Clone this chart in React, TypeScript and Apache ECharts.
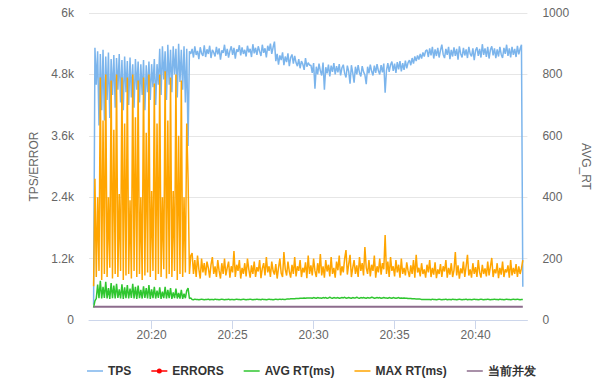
import React, { useEffect, useRef } from "react";
import * as echarts from "echarts";

// ---- time base (one sample every 5 s) ----
const START = new Date(2020, 0, 1, 20, 16, 25).getTime();
const STEP_MS = 5000;
const AXIS_MIN = new Date(2020, 0, 1, 20, 16, 8).getTime();
const AXIS_MAX = new Date(2020, 0, 1, 20, 43, 12).getTime();
const TICK_LABELS = ["20:20", "20:25", "20:30", "20:35", "20:40"];

const LEGEND_NAMES = ["TPS", "ERRORS", "AVG RT(ms)", "MAX RT(ms)", "当前并发"];

// ---- TPS (left axis) ----
const TPS = [
  300,
  5320, 4600, 5250, 3800, 5200, 4100, 5280, 3900, 5150, 4300,
  5230, 3950, 5100, 4400, 5180, 4150, 5120, 4500, 5200, 4250,
  5080, 4100, 5150, 4450, 5060, 4200, 5130, 4350, 5000, 4150,
  5100, 4500, 5050, 4250, 5000, 4400, 5080, 4100, 4980, 4450,
  5050, 4300, 5000, 4550, 5100, 4200, 5000, 4600, 5300, 4400,
  5350, 4700, 5250, 4300, 5380, 4600, 5280, 4450, 5350, 4800,
  5300, 4350, 5400, 4650, 5280, 4500, 5350, 4250, 5300, 3400,
  5250, 5200,
  5300, 5130, 5350, 5180, 5260, 5100, 5330, 5210, 5160, 5370,
  5140, 5290, 5200, 5360, 5120, 5280, 5230, 5150, 5340, 5190,
  5310, 5090, 5270, 5220, 5380, 5160, 5300, 5130, 5260, 5350,
  5180, 5320, 5110, 5290, 5240, 5370, 5170, 5330, 5200, 5280,
  5150, 5360, 5230, 5300, 5140, 5390, 5210, 5320, 5180, 5350,
  5250, 5160, 5380, 5220, 5310, 5130, 5360, 5260, 5400, 5200,
  5330,
  5440, 5060, 5200, 4990, 5170, 5080, 5230, 4980, 5150, 5040, 5210, 4960, 5130, 5190, 5010, 5160, 5030,
  4960, 5100, 4920, 5060, 5000, 4890, 5120, 4950, 5030, 4980,
  4980, 4830, 5020, 4520, 4950, 4800, 5010, 4870, 4780, 5030,
  4500, 4940, 4820, 4990, 4760, 4970, 4850, 5020, 4800, 4960,
  4840, 5000, 4780, 4930, 4990, 4820, 4740, 4970, 4860, 4620,
  4980, 4830,
  4640, 4950, 4800, 4980, 4830, 4760, 4960, 4850, 4790, 4610,
  4950, 4820, 4990, 4860, 4780, 4970, 4830, 5000, 4870, 4800,
  4980, 4840, 5010,
  4440,
  4880, 5020, 4850, 4990, 5050, 4870, 5010, 4830, 5040, 4900, 5060, 4860, 5020, 4890, 5070, 4920, 5030,
  5080, 4980, 5120, 5010, 5150, 5060, 5170, 5090, 5200, 5110, 5230, 5150, 5260,
  5280, 5140, 5310, 5170, 5340, 5110, 5290, 5160, 5320, 5130,
  5270, 5380, 5190, 5120, 5300, 5180, 5340, 5100, 5280, 5150,
  5330, 5160, 5300, 5090, 5350, 5200, 5130, 5320, 5170, 5290,
  5120, 5340, 5200, 5150, 5310, 5080, 5270, 5330, 5160, 5300,
  5130, 5390, 5180, 5310, 5140, 5340, 5110, 5280, 5350, 5170,
  5310, 5120, 5290, 5150, 5340, 5190, 5120, 5320, 5200, 5380,
  5160, 5310, 5130, 5340, 5180, 5300, 5140, 5360, 5190, 5300,
  5380,
  650,
];

// ---- ERRORS (no errors recorded) ----
const ERRORS: number[] = [];

// ---- AVG RT (ms, right axis) ----
const AVG_RT = [
  40, 62, 70,
  115, 71, 128, 70, 108, 72, 124, 70, 104, 69,
  120, 71, 112, 70, 118, 72, 100, 70, 116, 69,
  106, 71, 114, 70, 102, 72, 118, 70, 108, 69,
  112, 71, 98, 70, 110, 72, 104, 70, 114, 69,
  100, 71, 108, 70, 96, 72, 106, 69, 92, 71,
  108, 70, 98, 71, 104, 69, 90, 71, 102, 70,
  88, 70, 98, 69, 86, 71, 96, 104, 70, 72,
  67, 66, 68, 67, 67, 66, 67, 68, 67, 66,
  67, 67, 68, 66, 67, 67, 66, 68, 67, 67,
  66, 67, 68, 67, 66, 67, 67, 68, 66, 67,
  67, 66, 67, 68, 67, 67, 66, 67, 68, 67,
  66, 67, 67, 68, 67, 66, 67, 67, 68, 67,
  67, 66, 68, 67, 67, 66, 67, 68, 67, 67,
  66, 67, 68, 67, 67, 68, 67, 68, 67, 67,
  68, 68, 68, 69, 69, 69, 69, 70, 70, 70,
  71, 71, 71, 72, 71, 72, 72, 72,
  72, 71, 73, 72, 71, 73, 72, 72, 71, 73,
  72, 73, 71, 72, 74, 72, 71, 73, 72, 72,
  73, 71, 72, 73, 72, 74, 71, 72, 73, 72,
  71, 73, 72, 72, 74, 72, 71, 73, 72, 73,
  72, 71, 73, 72, 72, 74, 73, 71, 72, 73,
  72, 73, 71, 72, 73, 72, 72, 71, 73, 72,
  71, 73, 72, 71, 72, 73, 71, 72, 71, 72,
  71, 71, 70, 70, 70, 69, 69, 69, 68, 68, 68, 68, 67, 67, 67, 67, 67, 67,
  67, 66, 68, 67, 67, 66, 67, 68, 67, 66,
  67, 67, 68, 66, 67, 67, 66, 68, 67, 67,
  66, 67, 68, 67, 66, 67, 67, 68, 66, 67,
  67, 66, 67, 68, 67, 67, 66, 67, 68, 67,
  66, 67, 67, 68, 67, 66, 67, 67, 68, 67,
  67, 66, 68, 67, 67, 66, 67, 68, 67, 67,
  66, 67, 68, 67, 67, 68, 67, 66, 67, 67,
];

// ---- MAX RT (ms, right axis) ----
const MAX_RT = [
  110,
  460, 140, 400, 160, 790, 130, 650, 150, 800, 140,
  400, 170, 780, 135, 620, 150, 800, 140, 410, 160,
  790, 130, 640, 145, 790, 150, 390, 135, 800, 160,
  660, 140, 780, 150, 400, 130, 790, 145, 610, 155,
  800, 140, 420, 160, 770, 130, 640, 150, 800, 140,
  400, 165, 810, 135, 650, 150, 790, 140, 420, 160,
  800, 130, 600, 150, 780, 140, 400, 155, 640, 460,
  150, 210,
  218, 150, 195, 140, 210, 165, 135, 200, 155, 185,
  145, 190, 170, 138, 180, 205, 150, 175, 140, 195,
  160, 135, 185, 150, 200, 145, 170, 190, 138, 175,
  155, 225, 140, 180, 160, 195, 135, 170, 150, 185,
  142, 200, 165, 138, 178, 150, 190, 140, 172, 158,
  195, 136, 168, 185, 145, 205, 155, 175, 140, 190,
  160, 148, 182, 135, 170, 200, 152, 140, 221, 165,
  145, 190, 158, 138, 180, 150, 205, 142, 175, 160,
  195, 140, 170, 155, 188, 136, 210, 150, 178, 145,
  200, 160, 140, 185, 152, 215, 145, 175, 138, 195,
  158, 180, 142, 205, 150, 170, 138, 190, 162, 210,
  145, 175, 155, 200, 228, 148, 182, 212, 140, 170,
  195, 150, 178, 140, 205, 160, 185, 145, 238, 170,
  150, 195, 142, 180, 160, 210, 138, 175, 155, 200,
  148, 185, 165, 277, 150, 190, 140, 205, 160, 175,
  142, 195, 155, 180, 138, 200, 150, 170, 145, 188,
  160, 140, 178, 150, 195, 138, 212, 155, 170, 142,
  185, 150, 165, 138, 180, 155, 195, 140, 170, 148,
  188, 136, 165, 150, 182, 140, 175, 158, 195, 138,
  170, 148, 185, 140, 162, 221, 145, 178, 135, 168,
  152, 190, 140, 175, 212, 145, 165, 138, 185, 150,
  172, 140, 195, 155, 138, 180, 150, 168, 142, 190,
  145, 175, 202, 140, 165, 152, 185, 136, 170, 148,
  190, 140, 165, 155, 178, 138, 195, 145, 170, 150,
  182, 140, 175, 150, 168, 195,
];

// ---- current concurrency (flat for the whole run: first and last sample) ----
const CONCURRENCY = [260, 260];

const FONT = '"Lucida Grande", "Lucida Sans Unicode", Arial, Helvetica, sans-serif';

// legend icons: a short line, and a short line with a dot (ERRORS)
const LINE_ICON = "path://M0,0M16,10M0,4.25L16,4.25L16,5.75L0,5.75Z";
const DOT_ICON =
  "path://M0,0M16,10M0,4.25L16,4.25L16,5.75L0,5.75Z M10.5,5A2.5,2.5,0,1,1,5.5,5A2.5,2.5,0,1,1,10.5,5Z";

function toPairs(values: number[]) {
  return values.map((v, i) => [START + i * STEP_MS, v]);
}

function tickTime(label: string) {
  const [h, m] = label.split(":").map(Number);
  return new Date(2020, 0, 1, h, m, 0).getTime();
}

function fmtTime(v: number) {
  const d = new Date(v);
  const hh = String(d.getHours()).padStart(2, "0");
  const mm = String(d.getMinutes()).padStart(2, "0");
  return hh + ":" + mm;
}

export default function App() {
  const ref = useRef<HTMLDivElement>(null);

  useEffect(() => {
    document.body.style.margin = "0";
    if (!ref.current) return;
    const chart = echarts.init(ref.current, undefined, { renderer: "svg" });
    const ticks = TICK_LABELS.map(tickTime);
    const lastT = START + (TPS.length - 1) * STEP_MS;

    chart.setOption({
      animation: false,
      textStyle: { fontFamily: FONT },
      grid: { left: 89, right: 72, top: 13, bottom: 66, containLabel: false },
      legend: {
        data: LEGEND_NAMES.map((name) => ({
          name,
          icon: name === "ERRORS" ? DOT_ICON : LINE_ICON,
        })),
        left: 82,
        top: 360,
        itemWidth: 16,
        itemHeight: 10,
        itemGap: 20,
        textStyle: { color: "#333", fontWeight: "bold", fontSize: 12, fontFamily: FONT },
      },
      xAxis: {
        type: "value",
        min: AXIS_MIN,
        max: AXIS_MAX,
        scale: true,
        axisLine: { show: true, lineStyle: { color: "#ccd6eb" } },
        axisTick: { show: true, length: 9, customValues: ticks, lineStyle: { color: "#ccd6eb" } },
        axisLabel: {
          customValues: ticks,
          color: "#666",
          fontSize: 12,
          margin: 9,
          fontFamily: FONT,
          formatter: (v: number) => fmtTime(v),
        },
        splitLine: { show: false },
      },
      yAxis: [
        {
          type: "value",
          min: 0,
          max: 6000,
          interval: 1200,
          name: "TPS/ERROR",
          nameLocation: "middle",
          nameGap: 46,
          nameTextStyle: { color: "#666", fontSize: 12, fontFamily: FONT },
          axisLine: { show: false },
          axisTick: { show: false },
          axisLabel: {
            color: "#666",
            fontSize: 12,
            margin: 15,
            fontFamily: FONT,
            formatter: (v: number) => (v === 0 ? "0" : v / 1000 + "k"),
          },
          splitLine: { show: true, lineStyle: { color: "#e6e6e6" } },
        },
        {
          type: "value",
          min: 0,
          max: 1000,
          interval: 200,
          name: "AVG_RT",
          nameLocation: "middle",
          nameGap: 51,
          nameRotate: -90,
          nameTextStyle: { color: "#666", fontSize: 12, fontFamily: FONT },
          axisLine: { show: false },
          axisTick: { show: false },
          axisLabel: {
            color: "#666",
            fontSize: 12,
            margin: 15,
            fontFamily: FONT,
            formatter: (v: number) => String(v),
          },
          splitLine: { show: false },
        },
      ],
      series: [
        {
          name: "TPS",
          type: "line",
          yAxisIndex: 0,
          symbol: "none",
          data: toPairs(TPS),
          lineStyle: { width: 1.5, color: "#7cb5ec" },
          itemStyle: { color: "#7cb5ec" },
        },
        {
          name: "ERRORS",
          type: "line",
          yAxisIndex: 0,
          symbol: "circle",
          symbolSize: 5,
          data: toPairs(ERRORS),
          lineStyle: { width: 1.5, color: "#ff0000" },
          itemStyle: { color: "#ff0000" },
        },
        {
          name: "AVG RT(ms)",
          type: "line",
          yAxisIndex: 1,
          symbol: "none",
          data: toPairs(AVG_RT),
          lineStyle: { width: 1.5, color: "#2fc62f" },
          itemStyle: { color: "#2fc62f" },
        },
        {
          name: "MAX RT(ms)",
          type: "line",
          yAxisIndex: 1,
          symbol: "none",
          data: toPairs(MAX_RT),
          lineStyle: { width: 1.5, color: "#ffa500" },
          itemStyle: { color: "#ffa500" },
        },
        {
          name: "当前并发",
          type: "line",
          yAxisIndex: 0,
          symbol: "none",
          data: [
            [START, CONCURRENCY[0]],
            [lastT, CONCURRENCY[1]],
          ],
          lineStyle: { width: 2, color: "#8c6c8c" },
          itemStyle: { color: "#8c6c8c" },
        },
      ],
    });

    return () => chart.dispose();
  }, []);

  return <div ref={ref} style={{ width: 600, height: 386 }} />;
}
